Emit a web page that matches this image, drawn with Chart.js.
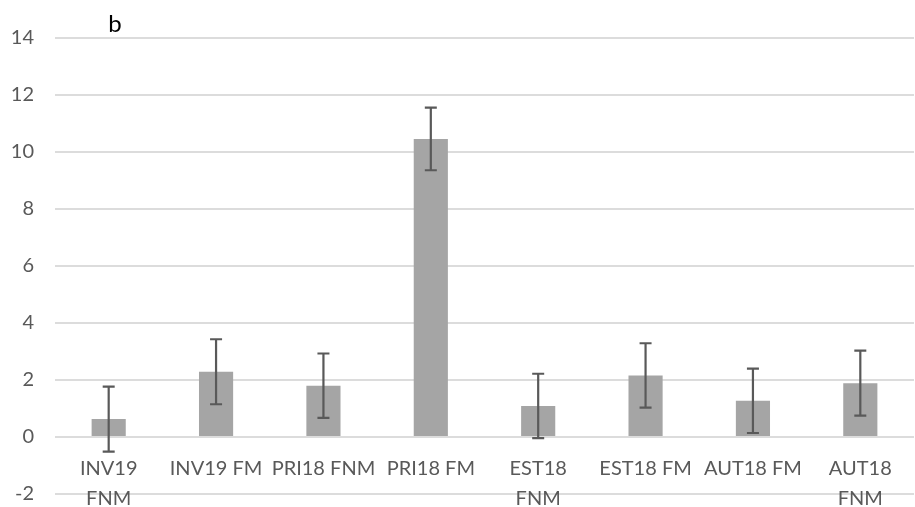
<!DOCTYPE html>
<html>
<head>
<meta charset="utf-8">
<script src="https://cdn.jsdelivr.net/npm/chart.js@4/dist/chart.umd.min.js"></script>
<style>
  html, body { margin: 0; padding: 0; background: #fff; }
  #wrap { width: 915px; height: 507px; position: relative; }
</style>
</head>
<body>
<div id="wrap"><canvas id="chart"></canvas></div>
<script>
// Category labels (multi-line where the label wraps)
const categories = [
  ["INV19", "FNM"],
  "INV19 FM",
  "PRI18 FNM",
  "PRI18 FM",
  ["EST18", "FNM"],
  "EST18 FM",
  "AUT18 FM",
  ["AUT18", "FNM"]
];
// Mean values and their error margins (±)
const means  = [0.63, 2.29, 1.80, 10.46, 1.09, 2.16, 1.27, 1.89];
const errors = [1.14, 1.14, 1.13, 1.10, 1.13, 1.13, 1.13, 1.14];
// Value axis ticks
const yMin = -2;
const yMax = 14;
const yStep = 2;
const panelLetter = "b";

const FONT = "Lato, 'Liberation Sans', Arial, sans-serif";

// Draws symmetric error bars over each bar using the value scale
const errorBarPlugin = {
  id: "errorBars",
  afterDatasetsDraw(chart) {
    const meta = chart.getDatasetMeta(0);
    const y = chart.scales.y;
    const ctx = chart.ctx;
    ctx.save();
    ctx.strokeStyle = "#595959";
    ctx.lineWidth = 2.2;
    const cap = 6;
    meta.data.forEach((bar, i) => {
      const x = bar.x;
      const top = y.getPixelForValue(means[i] + errors[i]);
      const bot = y.getPixelForValue(means[i] - errors[i]);
      ctx.beginPath();
      ctx.moveTo(x, top); ctx.lineTo(x, bot);
      ctx.moveTo(x - cap, top); ctx.lineTo(x + cap, top);
      ctx.moveTo(x - cap, bot); ctx.lineTo(x + cap, bot);
      ctx.stroke();
    });
    ctx.restore();
  }
};

// Panel letter in the upper-left of the plot
const panelLetterPlugin = {
  id: "panelLetter",
  afterDraw(chart) {
    const ctx = chart.ctx;
    const area = chart.chartArea;
    ctx.save();
    ctx.fillStyle = "#000";
    ctx.font = "24px " + FONT;
    ctx.textAlign = "center";
    ctx.textBaseline = "middle";
    ctx.fillText(panelLetter, area.left + 60, area.top - 14);
    ctx.restore();
  }
};

new Chart(document.getElementById("chart"), {
  type: "bar",
  data: {
    labels: categories,
    datasets: [{
      data: means,
      backgroundColor: "#A5A5A5",
      borderWidth: 0,
      barPercentage: 0.318,
      categoryPercentage: 1.0
    }]
  },
  options: {
    responsive: true,
    maintainAspectRatio: false,
    animation: false,
    layout: { padding: { top: 38, bottom: 13, right: 1, left: 0 } },
    plugins: {
      legend: { display: false },
      tooltip: { enabled: false }
    },
    scales: {
      x: {
        position: { y: 0 },
        grid: { display: false, drawTicks: false },
        border: { display: false },
        afterFit(scale) { scale.height = 0; },
        ticks: {
          autoSkip: false,
          maxRotation: 0,
          minRotation: 0,
          padding: 17,
          color: "#595959",
          font: { family: FONT, size: 20, lineHeight: 1.5 }
        }
      },
      y: {
        min: yMin,
        max: yMax,
        afterFit(scale) { scale.width = 55; },
        grid: {
          color: "#DCDCDC",
          lineWidth: 2,
          drawTicks: true,
          tickLength: 20,
          tickColor: "rgba(0,0,0,0)"
        },
        border: { display: false },
        ticks: {
          stepSize: yStep,
          padding: 1,
          color: "#595959",
          font: { family: FONT, size: 20 }
        }
      }
    }
  },
  plugins: [errorBarPlugin, panelLetterPlugin]
});
</script>
</body>
</html>
